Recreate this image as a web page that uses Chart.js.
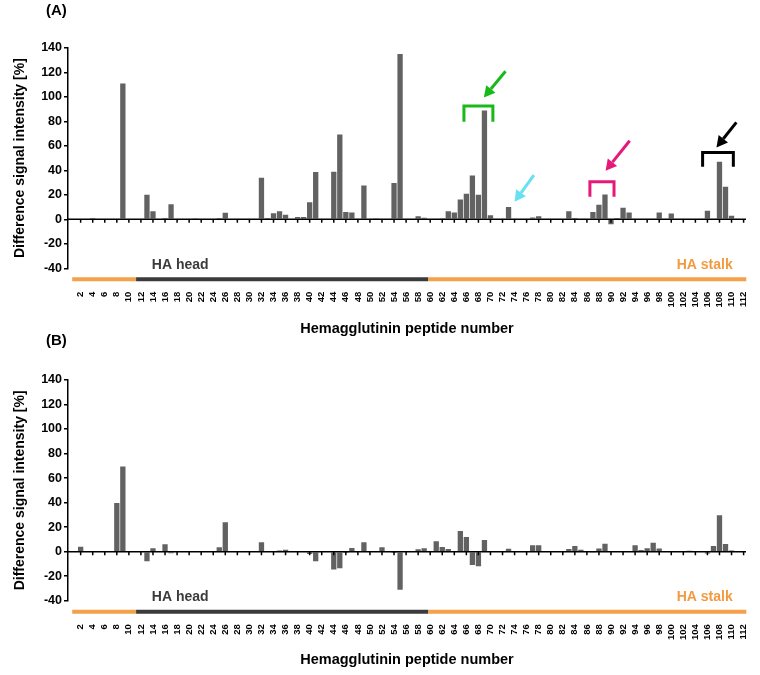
<!DOCTYPE html>
<html>
<head>
<meta charset="utf-8">
<title>Hemagglutinin peptide signal difference</title>
<script src="https://cdn.jsdelivr.net/npm/chart.js@4.4.1/dist/chart.umd.min.js"></script>
<style>
    html, body { margin: 0; padding: 0; background: #fff; }
    #wrap { position: relative; width: 760px; height: 675px; overflow: hidden; }
    .panel { position: absolute; left: 0; width: 760px; }
    #panel-a { top: 0; height: 338px; }
    #panel-b { top: 332px; height: 343px; }
</style>
</head>
<body>
<div id="wrap">
    <div class="panel" id="panel-a"><canvas id="chart-a"></canvas></div>
    <div class="panel" id="panel-b"><canvas id="chart-b"></canvas></div>
</div>
<script>
// ── Data ──

const peptides = [
    1, 2, 3, 4, 5, 6, 7, 8, 9, 10, 11, 12, 13, 14, 15, 16, 17, 18, 19, 20,
    21, 22, 23, 24, 25, 26, 27, 28, 29, 30, 31, 32, 33, 34, 35, 36, 37, 38, 39, 40,
    41, 42, 43, 44, 45, 46, 47, 48, 49, 50, 51, 52, 53, 54, 55, 56, 57, 58, 59, 60,
    61, 62, 63, 64, 65, 66, 67, 68, 69, 70, 71, 72, 73, 74, 75, 76, 77, 78, 79, 80,
    81, 82, 83, 84, 85, 86, 87, 88, 89, 90, 91, 92, 93, 94, 95, 96, 97, 98, 99, 100,
    101, 102, 103, 104, 105, 106, 107, 108, 109, 110, 111, 112
];

const tickLabels = [
    2, 4, 6, 8, 10, 12, 14, 16, 18, 20, 22, 24, 26, 28, 30, 32, 34, 36, 38, 40,
    42, 44, 46, 48, 50, 52, 54, 56, 58, 60, 62, 64, 66, 68, 70, 72, 74, 76, 78, 80,
    82, 84, 86, 88, 90, 92, 94, 96, 98, 100, 102, 104, 106, 108, 110, 112
];

// panel A, peptides 1..112
const diffA = [
    0, 0, 0, 1, 0, 0, 0, 0, 111, 0,
    0, 0, 20, 6.6, 0, 1, 12.3, 0, 0, 0,
    0.5, 0, 0, 0, 1, 5.4, 0, 0, 0, 0,
    0, 34, 0.3, 5, 6.6, 3.8, 0, 2, 2, 14,
    38.7, 0, 0, 38.8, 69.4, 6, 5.5, 0, 27.7, 0,
    0.5, 0, 0, 29.6, 135, 0, 0, 2.5, 1.4, 0,
    0, 0.5, 6.6, 5.5, 16.2, 21, 35.9, 20, 88.9, 3.3,
    0, 0, 10, 0, 0, 0, 1.5, 2.5, 0, 0,
    0, 0, 6.6, 1, 0, 0, 6, 12, 20.3, -4,
    1, 9.5, 5.5, 0, 0, 0, 0, 5.5, 0, 4.7,
    0, 0, 0, 0, 0, 7, 0, 47, 26.6, 3,
    0.7, 0
];

// panel B, peptides 1..112
const diffB = [
    0, 4.1, 0, 0, 0, 0, 0, 39.7, 69.4, 0,
    0, 0, -7.9, 2.7, 0, 6, -1.3, 0, 0, 0,
    0.5, 0.5, 0, 0, 3.5, 24, 0, 0, 0.5, 0.5,
    0, 7.6, 0.5, 0, 1, 1.5, 0, 0, 0, -2,
    -7.9, 0, 0, -14.6, -13.5, -1, 3, 0, 7.6, 0.5,
    0.5, 3.5, 0, -1, -31, 0, 0, 1.9, 2.7, 0,
    8.4, 3.8, 2.2, 0, 16.9, 12, -10.9, -12, 9.5, 0.5,
    0, 0, 2.3, 0, 0, 0, 5.2, 5.2, 0, 0,
    0, 0, 2.2, 4.6, 1.6, 0, -0.8, 2.5, 6.5, 0,
    0, 0, 0, 5.2, 1.4, 2.7, 7.3, 2.5, 0.3, 0,
    0, 0, 0.8, 0, 0, -1.5, 4.6, 29.7, 6.3, 1,
    0.5, 0
];

// HA domains along the peptide axis
const domains = [
    { from: 0.6, to: 11.2, color: '#f5a04a' },
    { from: 11.2, to: 59.7, color: '#3b3b3b' },
    { from: 59.7, to: 112.45, color: '#f5a04a' },
];

// brackets [fromPeptide, toPeptide, top, legEnd] and arrows [tail, tip] in data units (panel A)
const marksA = [
    { color: '#19b919', bracket: [65.6, 70.4, 92.7, 79.7], arrow: [[72.5, 121], [68.9, 99.6]] },
    { color: '#66e0f2', bracket: null, arrow: [[77.2, 36.2], [74.0, 14.4]] },
    { color: '#e6197a', bracket: [86.5, 90.5, 30.7, 18.4], arrow: [[93.1, 64.2], [89.1, 39.7]] },
    { color: '#000000', bracket: [105.2, 110.3, 54.7, 42.9], arrow: [[110.8, 79.2], [107.5, 58.8]] },
];

const FONT = "'Liberation Sans', Arial, sans-serif";
Chart.defaults.font.family = FONT;
Chart.defaults.color = '#000';

// ── Decorations: zero line, HA bar, labels, arrows ──

const panelDecor = {
    id: 'panelDecor',
    afterDatasetsDraw(chart, args, opts) {
        const { ctx, chartArea: area, scales: { x, y } } = chart;
        const y0 = y.getPixelForValue(0);
        ctx.save();

        ctx.strokeStyle = '#000';
        ctx.lineWidth = 1.5;
        ctx.beginPath();
        ctx.moveTo(area.left, y0);
        ctx.lineTo(area.right, y0);
        tickLabels.forEach(t => {
            const px = x.getPixelForValue(t);
            ctx.moveTo(px, y0);
            ctx.lineTo(px, y0 + 3.5);
        });
        ctx.stroke();

        const barY = area.bottom + 11;
        ctx.lineWidth = 4;
        domains.forEach(d => {
            ctx.strokeStyle = d.color;
            ctx.beginPath();
            ctx.moveTo(x.getPixelForValue(d.from), barY);
            ctx.lineTo(x.getPixelForValue(d.to), barY);
            ctx.stroke();
        });

        ctx.font = `bold 14px ${FONT}`;
        ctx.textBaseline = 'alphabetic';
        ctx.fillStyle = '#3b3b3b';
        ctx.textAlign = 'left';
        ctx.fillText('HA head', x.getPixelForValue(13.8), area.bottom + 0.5);
        ctx.fillStyle = '#f39a3e';
        ctx.textAlign = 'right';
        ctx.fillText('HA stalk', x.getPixelForValue(110.2), area.bottom + 0.5);

        ctx.fillStyle = '#000';
        ctx.textAlign = 'left';
        ctx.textBaseline = 'middle';
        ctx.font = `bold 15px ${FONT}`;
        ctx.fillText(opts.letter, 46, opts.letterY);

        (opts.marks || []).forEach(m => {
            ctx.strokeStyle = m.color;
            ctx.fillStyle = m.color;
            ctx.lineWidth = 3;
            ctx.lineJoin = 'miter';
            if (m.bracket) {
                const [b1, b2, top, leg] = m.bracket;
                ctx.beginPath();
                ctx.moveTo(x.getPixelForValue(b1), y.getPixelForValue(leg));
                ctx.lineTo(x.getPixelForValue(b1), y.getPixelForValue(top));
                ctx.lineTo(x.getPixelForValue(b2), y.getPixelForValue(top));
                ctx.lineTo(x.getPixelForValue(b2), y.getPixelForValue(leg));
                ctx.stroke();
            }
            const tx = x.getPixelForValue(m.arrow[0][0]), ty = y.getPixelForValue(m.arrow[0][1]);
            const hx = x.getPixelForValue(m.arrow[1][0]), hy = y.getPixelForValue(m.arrow[1][1]);
            const ang = Math.atan2(hy - ty, hx - tx);
            const headLen = 11, headW = 6;
            const bx = hx - headLen * Math.cos(ang), by = hy - headLen * Math.sin(ang);
            ctx.beginPath();
            ctx.moveTo(tx, ty);
            ctx.lineTo(bx, by);
            ctx.stroke();
            ctx.beginPath();
            ctx.moveTo(hx, hy);
            ctx.lineTo(bx + headW * Math.sin(ang), by - headW * Math.cos(ang));
            ctx.lineTo(bx - headW * Math.sin(ang), by + headW * Math.cos(ang));
            ctx.closePath();
            ctx.fill();
        });

        ctx.restore();
    }
};

// ── Panels ──

function makePanel(canvasId, values, cfg) {
    const ctx = document.getElementById(canvasId).getContext('2d');
    return new Chart(ctx, {
        type: 'bar',
        data: {
            datasets: [{
                data: peptides.map((p, i) => ({ x: p, y: values[i] })),
                backgroundColor: '#626262',
                borderWidth: 0,
                barPercentage: 0.88,
                categoryPercentage: 1.0,
            }]
        },
        options: {
            responsive: true,
            maintainAspectRatio: false,
            animation: false,
            layout: { padding: { left: 0, right: 14, top: 48, bottom: 0 } },
            plugins: {
                legend: { display: false },
                tooltip: { enabled: false },
                panelDecor: { letter: cfg.letter, letterY: cfg.letterY, marks: cfg.marks },
            },
            scales: {
                x: {
                    type: 'linear',
                    offset: false,
                    min: -0.1,
                    max: 112.4,
                    afterBuildTicks: s => { s.ticks = tickLabels.map(v => ({ value: v })); },
                    afterFit: s => {
                        s.height = cfg.xAxisHeight;
                        s.paddingLeft = 0;
                        s.paddingRight = 0;
                    },
                    grid: { display: false, drawTicks: false },
                    border: { display: false },
                    ticks: {
                        autoSkip: false,
                        minRotation: 90,
                        maxRotation: 90,
                        padding: 23.4,
                        font: { size: 9.5, weight: 'bold' },
                        color: '#000',
                    },
                    title: {
                        display: true,
                        text: 'Hemagglutinin peptide number',
                        font: { size: 14.5, weight: 'bold' },
                        color: '#000',
                        padding: { top: 0, bottom: cfg.titlePad },
                    },
                },
                y: {
                    min: -40,
                    max: 140,
                    afterFit: s => { s.width = 68; },
                    grid: { display: true, drawOnChartArea: false, drawTicks: true, tickLength: 4, color: '#000', lineWidth: 1.5 },
                    border: { display: true, color: '#000', width: 1.5 },
                    ticks: {
                        stepSize: 20,
                        padding: 2,
                        font: { size: 12.5, weight: 'bold' },
                        color: '#000',
                    },
                    title: {
                        display: true,
                        text: 'Difference signal intensity [%]',
                        font: { size: 14, weight: 'bold' },
                        color: '#000',
                        padding: { top: 11.6, bottom: 0 },
                    },
                },
            },
        },
        plugins: [panelDecor],
    });
}

makePanel('chart-a', diffA, { letter: '(A)', letterY: 11, marks: marksA, xAxisHeight: 69.7, titlePad: 0 });
makePanel('chart-b', diffB, { letter: '(B)', letterY: 9, marks: [], xAxisHeight: 74.3, titlePad: 6.3 });
</script>
</body>
</html>
